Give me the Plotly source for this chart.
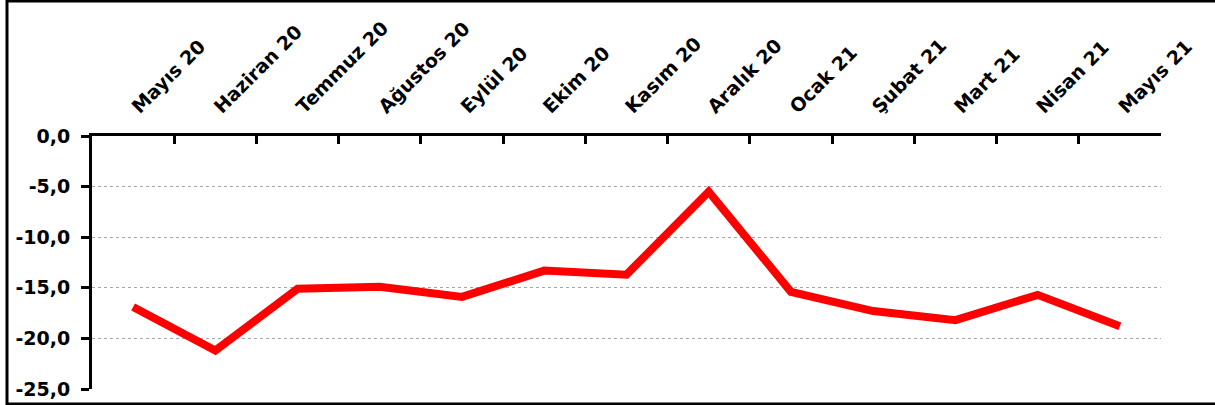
import plotly.graph_objects as go

# Aylar ve değerler
aylar = ["Mayıs 20", "Haziran 20", "Temmuz 20", "Ağustos 20", "Eylül 20",
         "Ekim 20", "Kasım 20", "Aralık 20", "Ocak 21", "Şubat 21",
         "Mart 21", "Nisan 21", "Mayıs 21"]
degerler = [-16.9, -21.2, -15.1, -14.9, -15.9, -13.3, -13.7,
            -5.5, -15.4, -17.3, -18.2, -15.7, -18.8]
y_tikler = [0, -5, -10, -15, -20, -25]
y_etiketler = ["0,0", "-5,0", "-10,0", "-15,0", "-20,0", "-25,0"]

FONT = dict(family="DejaVu Sans", size=19, color="black", weight="bold")

fig = go.Figure()
fig.add_trace(go.Scatter(
    x=aylar, y=degerler, mode="lines",
    line=dict(color="#FF0000", width=8),
    showlegend=False,
))

fig.update_layout(
    width=1215, height=405,
    paper_bgcolor="white", plot_bgcolor="white",
    margin=dict(l=92, r=54, t=136, b=16, autoexpand=False),
    font=FONT,
    xaxis=dict(
        side="top", type="category", tickangle=-45,
        range=[-0.5, len(aylar) - 0.5], automargin=False,
        showline=True, linecolor="black", linewidth=3,
        ticks="inside", ticklen=8, tickwidth=3, tickcolor="black",
        tickson="boundaries", showgrid=False, ticklabelstandoff=8,
        tickfont=FONT,
    ),
    yaxis=dict(
        range=[-25, 0], tickvals=y_tikler, ticktext=y_etiketler,
        automargin=False,
        showline=True, linecolor="black", linewidth=3,
        ticks="outside", ticklen=8, tickwidth=3, tickcolor="black",
        showgrid=True, gridcolor="#A6A6A6", griddash="dot", gridwidth=1,
        zeroline=False, ticklabelstandoff=7,
        tickfont=FONT,
    ),
)

# Dış çerçeve (sağ kenar görüntü dışında kalır)
fig.add_shape(
    type="rect", xref="paper", yref="paper",
    x0=(7 - 92) / 1069, x1=(1280 - 92) / 1069,
    y0=(389 - 404) / 253, y1=(389 - 1) / 253,
    line=dict(color="black", width=3), layer="below",
)

fig.write_html("out.html", config={"displayModeBar": False},
               post_script="document.body.style.margin='0';")
